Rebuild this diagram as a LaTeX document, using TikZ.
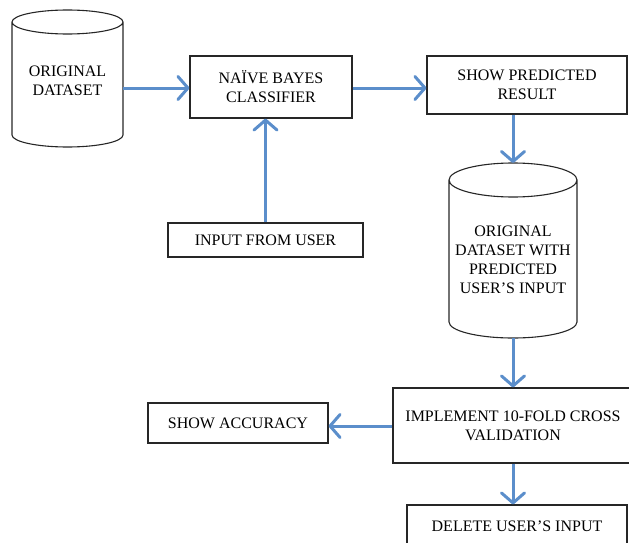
\documentclass[tikz,border=0pt]{standalone}
\usepackage{fontspec}
\setmainfont{Liberation Serif}
\usetikzlibrary{arrows.meta}
\definecolor{flowblue}{RGB}{91,142,203}
\tikzset{
  box/.style={draw=black!85, line width=1.1pt, fill=white, inner sep=0pt, align=center,
    font=\fontsize{16}{19}\selectfont},
  label/.style={inner sep=0pt, align=center, font=\fontsize{16}{19}\selectfont},
  cyl/.style={draw=black!85, line width=1.1pt},
  flow/.style={draw=flowblue, line width=3pt,
    -{Straight Barb[round, length=10pt, width=23pt]}},
}
\begin{document}
\begin{tikzpicture}[x=1pt, y=-1pt]
\useasboundingbox (0,0) rectangle (629,543);
\clip (0,0) rectangle (629,543);

% store: original dataset
\draw[cyl] (12,22) -- (12,135) arc[start angle=180, end angle=0, x radius=55.5, y radius=12]
  -- (123,22) arc[start angle=0, end angle=-180, x radius=55.5, y radius=12]
  arc[start angle=180, end angle=0, x radius=55.5, y radius=12];
\node[label] (orig) at (67.5,80.5) {ORIGINAL\\DATASET};
\coordinate (origE) at (123,88);

% store: dataset with predicted input
\draw[cyl] (449,180) -- (449,322) arc[start angle=180, end angle=0, x radius=64, y radius=16]
  -- (577,180) arc[start angle=0, end angle=-180, x radius=64, y radius=17]
  arc[start angle=180, end angle=0, x radius=64, y radius=17];
\node[label] (pred) at (513,260) {ORIGINAL\\DATASET WITH\\PREDICTED\\USER’S INPUT};
\coordinate (predN) at (513,163);
\coordinate (predS) at (513,338);

% process boxes
\node[box, minimum width=162pt, minimum height=62pt] (nb) at (271,87) {NAÏVE BAYES\\CLASSIFIER};
\node[box, minimum width=200pt, minimum height=58pt] (spr) at (527,85) {SHOW PREDICTED\\RESULT};
\node[box, minimum width=195pt, minimum height=34pt] (inp) at (265.5,240) {INPUT FROM USER};
\node[box, minimum width=240pt, minimum height=75pt] (impl) at (513,425.5) {IMPLEMENT 10-FOLD CROSS\\VALIDATION};
\node[box, minimum width=180pt, minimum height=40pt] (acc) at (238,423) {SHOW ACCURACY};
\node[box, minimum width=220pt, minimum height=42pt, text depth=0pt] (del) at (517,526) {DELETE USER’S INPUT};

% connectors
\draw[flow] (origE) -- (origE -| nb.west);
\draw[flow] (nb.east |- origE) -- (origE -| spr.west);
\draw[flow] (inp.north) -- (inp.north |- nb.south);
\draw[flow] (predN |- spr.south) -- (predN);
\draw[flow] (predS) -- (predS |- impl.north);
\draw[flow] (impl.west |- 0,426) -- (acc.east |- 0,426);
\draw[flow] (predS |- impl.south) -- (predS |- del.north);
\end{tikzpicture}
\end{document}
